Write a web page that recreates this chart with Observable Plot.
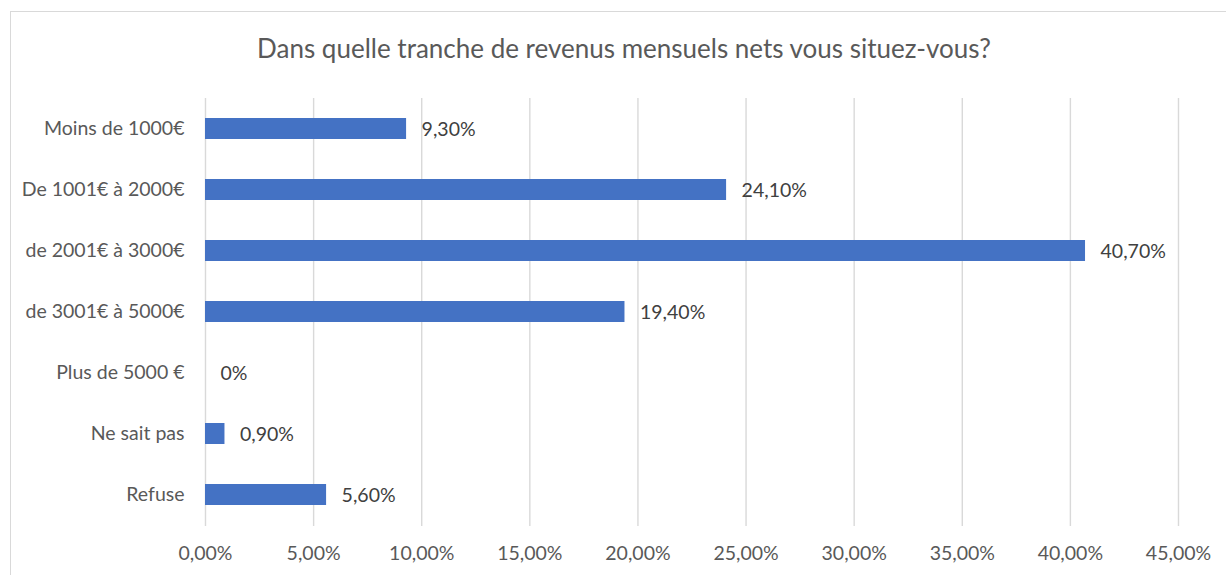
<!DOCTYPE html>
<html>
<head>
<meta charset="utf-8">
<script src="https://cdn.jsdelivr.net/npm/d3@7"></script>
<script src="https://cdn.jsdelivr.net/npm/@observablehq/plot@0.6"></script>
<style>
  html, body { margin: 0; padding: 0; background: #fff; }
  #wrap { position: relative; width: 1226px; height: 575px; overflow: hidden; background: #fff; font-family: Lato, "Open Sans", sans-serif; }
  #frame { position: absolute; left: 10px; top: 11px; width: 1400px; height: 800px; border: 1.2px solid #d9d9d9; box-sizing: border-box; }
  #title { position: absolute; left: 0; top: 0; width: 1248px; height: 80px; text-align: center; line-height: 96px; font-size: 26px; color: #595959; }
  #chart { position: absolute; left: 0; top: 80px; }
</style>
</head>
<body>
<div id="wrap">
  <div id="frame"></div>
  <div id="title">Dans quelle tranche de revenus mensuels nets vous situez-vous?</div>
  <div id="chart"></div>
</div>
<script>
const categories = ["Moins de 1000€", "De 1001€ à 2000€", "de 2001€ à 3000€", "de 3001€ à 5000€", "Plus de 5000 €", "Ne sait pas", "Refuse"];
const values = [9.3, 24.1, 40.7, 19.4, 0, 0.9, 5.6];
const valueLabels = ["9,30%", "24,10%", "40,70%", "19,40%", "0%", "0,90%", "5,60%"];
const xTicks = [0, 5, 10, 15, 20, 25, 30, 35, 40, 45];
const xTickLabels = ["0,00%", "5,00%", "10,00%", "15,00%", "20,00%", "25,00%", "30,00%", "35,00%", "40,00%", "45,00%"];

const data = categories.map((c, i) => ({ cat: c, v: values[i], label: valueLabels[i] }));

const chart = Plot.plot({
  width: 1226,
  height: 495,
  marginTop: 18,
  marginBottom: 49,
  marginLeft: 205,
  marginRight: 48,
  style: { fontFamily: "Lato, 'Open Sans', sans-serif", fontSize: "19.5px", color: "#595959", background: "transparent" },
  x: { domain: [0, 45], ticks: xTicks, tickFormat: (d) => xTickLabels[xTicks.indexOf(d)], label: null },
  y: { domain: categories, paddingInner: 0.655, paddingOuter: 0.3275, label: null },
  marks: [
    Plot.ruleX(xTicks, { stroke: "#d9d9d9", strokeWidth: 1.4 }),
    Plot.barX(data, { x: "v", y: "cat", fill: "#4472C4" }),
    Plot.text(data, { x: "v", y: "cat", text: "label", textAnchor: "start", dx: 15, dy: 1, fill: "#404040", fontSize: 19.5 }),
    Plot.axisX({ ticks: xTicks, tickFormat: (d) => xTickLabels[xTicks.indexOf(d)], tickSize: 0, tickPadding: 20, fill: "#595959", fontSize: 19.5, label: null }),
    Plot.axisY({ tickSize: 0, tickPadding: 21, fill: "#595959", fontSize: 19.5, label: null })
  ]
});
document.getElementById("chart").appendChild(chart);
</script>
</body>
</html>
